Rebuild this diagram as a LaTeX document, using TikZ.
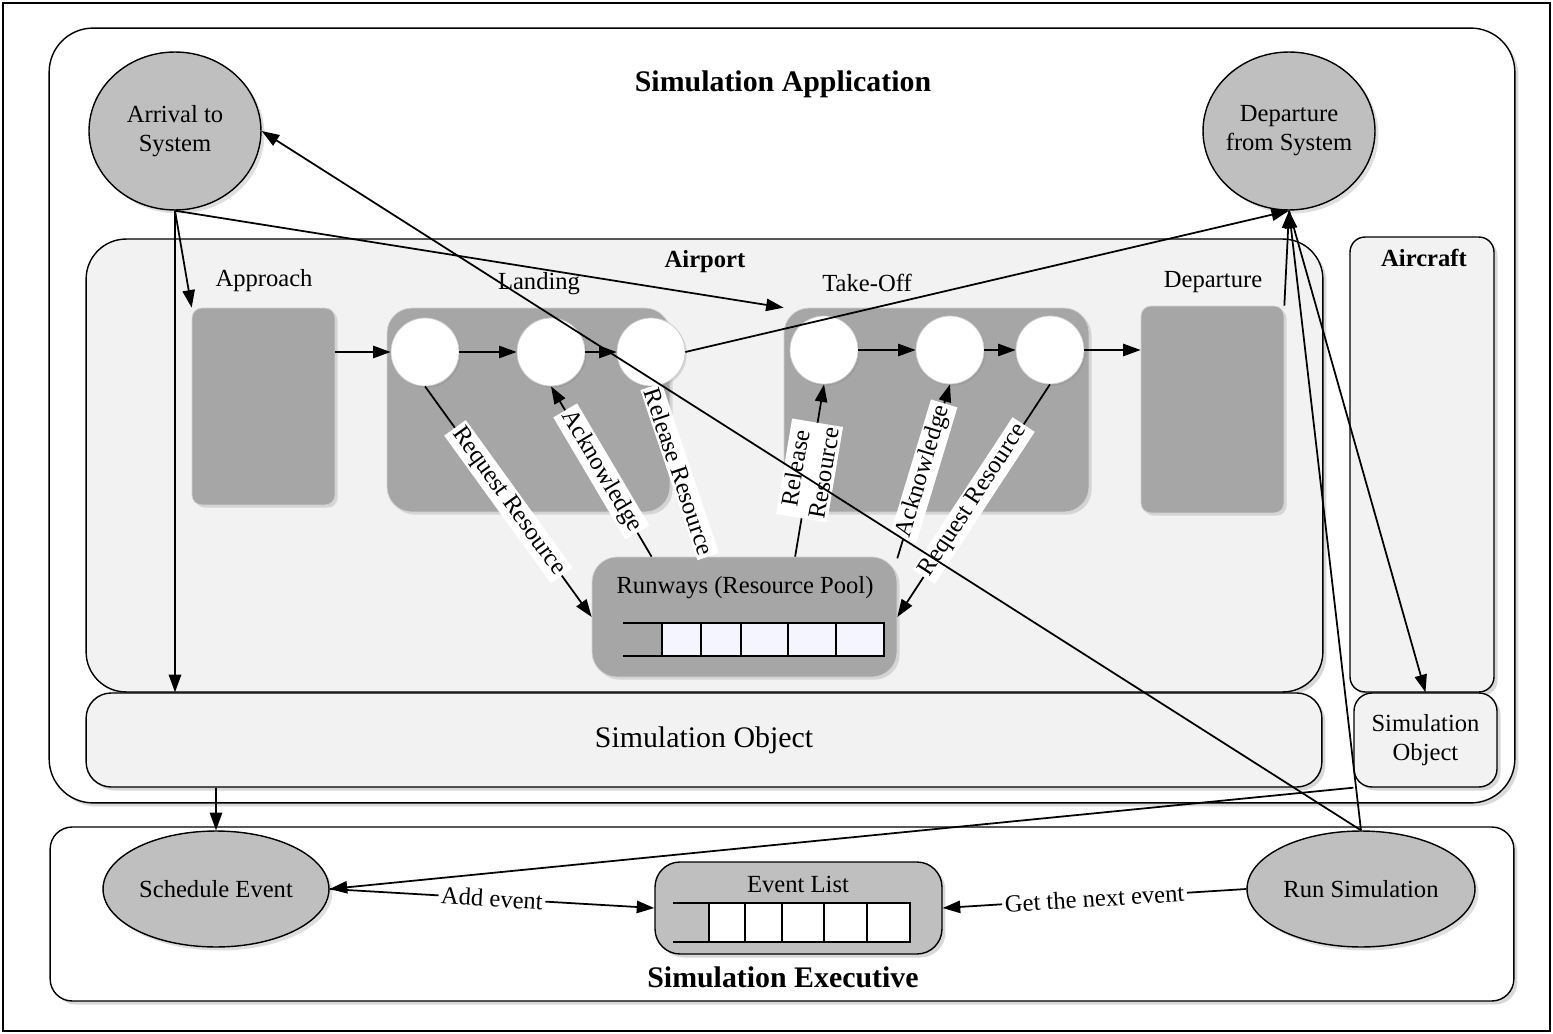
\documentclass[tikz,border=0pt]{standalone}
\usepackage{fontspec}
\setmainfont{Liberation Serif}
\usetikzlibrary{shapes.geometric,arrows.meta,shadows}
\definecolor{boxgray}{HTML}{A6A6A6}
\definecolor{panelgray}{HTML}{F2F2F2}
\definecolor{evtgray}{HTML}{BFBFBF}
\begin{document}
\begin{tikzpicture}[x=0.02cm, y=-0.02cm,
  every node/.style={font=\fontsize{14}{16.5}\selectfont},
  panel/.style={draw, line width=0.8pt, fill=#1, inner sep=0pt, drop shadow={opacity=0.3,shadow xshift=2pt,shadow yshift=-2pt}},
  grp/.style={draw=gray!35, fill=boxgray, inner sep=0pt, drop shadow={opacity=0.25,shadow xshift=1.5pt,shadow yshift=-1.5pt}},
  slot/.style={circle, draw=gray!40, fill=white, minimum size=1.36cm, inner sep=0pt, drop shadow={opacity=0.25,shadow xshift=1pt,shadow yshift=-1pt}},
  evt/.style={ellipse, draw, line width=0.8pt, fill=evtgray, inner sep=0pt, drop shadow={opacity=0.25,shadow xshift=2pt,shadow yshift=-2pt}},
  ttl/.style={font=\fontsize{17}{20}\selectfont\bfseries},
  conn/.style={-{Triangle[length=10pt,width=7pt]}, line width=1pt},
  lbl/.style={midway, sloped, fill=white, inner sep=1.5pt},
  cell/.style={draw, line width=1pt, fill=#1},
]
\useasboundingbox (0,0) rectangle (1553,1034);
\draw[line width=1.5pt] (3,3) rectangle (1550,1031);

% containers
\node[panel=white, rounded corners=0.88cm, minimum width=29.32cm, minimum height=15.5cm] (app) at (782,415.5) {};
\node[panel=white, rounded corners=0.44cm, minimum width=29.28cm, minimum height=3.48cm] (exec) at (782,914) {};
\node[panel=panelgray, rounded corners=0.8cm, minimum width=24.74cm, minimum height=9.06cm] (airport) at (704.5,465.5) {};
\node[panel=panelgray, rounded corners=0.3cm, minimum width=2.88cm, minimum height=9.1cm] (aircraft) at (1422,464.5) {};
\node[panel=panelgray, rounded corners=0.5cm, minimum width=24.72cm, minimum height=1.88cm, font=\fontsize{17}{20}\selectfont] (simobj) at (704,740) {Simulation Object};
\node[panel=panelgray, rounded corners=0.36cm, minimum width=2.86cm, minimum height=1.88cm, align=center] (simobj2) at (1425.5,740) {Simulation\\Object};

\node[ttl] (tapp) at (783,84) {Simulation Application};
\node[ttl] (texec) at (783,977) {Simulation Executive};
\node[font=\fontsize{14}{16.5}\selectfont\bfseries] (tairport) at (705,262) {Airport};
\node[font=\fontsize{14}{16.5}\selectfont\bfseries] (taircraft) at (1424,258) {Aircraft};

% events
\node[evt, minimum width=3.44cm, minimum height=3.16cm, label={[align=center]center:Arrival to\\System}] (arr) at (175,131) {};
\node[evt, minimum width=3.44cm, minimum height=3.16cm, label={[align=center]center:Departure\\from System}] (dep) at (1289,131) {};
\node[evt, minimum width=4.52cm, minimum height=2.32cm, label={center:Schedule Event}] (sched) at (216,889) {};
\node[evt, minimum width=4.56cm, minimum height=2.32cm, label={center:Run Simulation}] (run) at (1361,889) {};

% airport stages
\node (tappr) at (264,281) {Approach};
\node (tland) at (539,284) {Landing};
\node (ttoff) at (867,283) {Take-Off};
\node (tdepbox) at (1213,282) {Departure};
\node[grp, rounded corners=0.2cm, minimum width=2.86cm, minimum height=3.94cm] (appr) at (263.5,406.5) {};
\node[grp, rounded corners=0.5cm, minimum width=5.66cm, minimum height=4.08cm] (land) at (528.5,410) {};
\node[grp, rounded corners=0.5cm, minimum width=6.1cm, minimum height=4.08cm] (toff) at (936.5,410) {};
\node[grp, rounded corners=0.2cm, minimum width=2.86cm, minimum height=4.14cm] (depbox) at (1212.5,409.5) {};
\node[slot] (l1) at (425,352) {};
\node[slot] (l2) at (551,352) {};
\node[slot] (l3) at (651,352) {};
\node[slot] (t1) at (824,350) {};
\node[slot] (t2) at (950,350) {};
\node[slot] (t3) at (1050,350) {};

% runways
\node[grp, rounded corners=0.5cm, minimum width=6.1cm, minimum height=2.4cm] (runways) at (744.5,617) {};
\node (trunways) at (745,588) {Runways (Resource Pool)};
\draw[line width=1pt] (623,623) -- (884,623) (623,656) -- (884,656);
\foreach \a/\b in {662/701,701/741,741/788,788/836,836/884}
  \draw[cell=blue!4] (\a,623) rectangle (\b,656);

% event list
\node[panel=evtgray, rounded corners=0.5cm, minimum width=5.74cm, minimum height=1.84cm] (elist) at (798.5,908) {};
\node (telist) at (798,884) {Event List};
\draw[line width=1pt] (673,903) -- (910,903) (673,942) -- (910,942);
\foreach \a/\b in {709/745,745/782,782/824,824/867,867/910}
  \draw[cell=white] (\a,903) rectangle (\b,942);

% flow
\draw[conn] (appr.east |- l1) -- (l1);
\draw[conn] (l1) -- (l2);
\draw[conn] (l2) -- (l3);
\draw[conn] (t1) -- (t2);
\draw[conn] (t2) -- (t3);
\draw[conn] (t3) -- (depbox.west |- t3);

\draw[conn] (l1.south) -- (runways.west) node[lbl] {Request Resource};
\draw[conn] (runways.147) -- (l2.south) node[lbl] {Acknowledge};
\draw[conn] (l3.south) -- (runways.121) node[lbl] {Release Resource};
\draw[conn] (runways.50) -- (t1.south) node[lbl, align=center] {Release\\Resource};
\draw[conn] (runways.21) -- (t2.south) node[lbl] {Acknowledge};
\draw[conn] (t3.south) -- (runways.east) node[lbl] {Request Resource};

\draw[conn] (arr.south) -- (appr.north west);
\draw[conn] (arr.south) -- (arr.south |- simobj.north);
\draw[conn] (arr.south) -- (toff.north west);
\draw[conn] (l3.east) -- (dep.south);
\draw[conn] (depbox.north east) -- (dep.south);
\draw[conn] (dep.south) -- (simobj2.north);
\draw[conn] (run.north) -- (dep.south);
\draw[conn] (run.north) -- (arr.east);
\draw[conn] (simobj2.south west) -- (sched.east);
\draw[conn] (sched.north |- simobj.south) -- (sched.north);
\draw[conn] (sched.east) -- (elist.west) node[lbl] {Add event};
\draw[conn] (run.west) -- (elist.east) node[lbl] {Get the next event};
\end{tikzpicture}
\end{document}
